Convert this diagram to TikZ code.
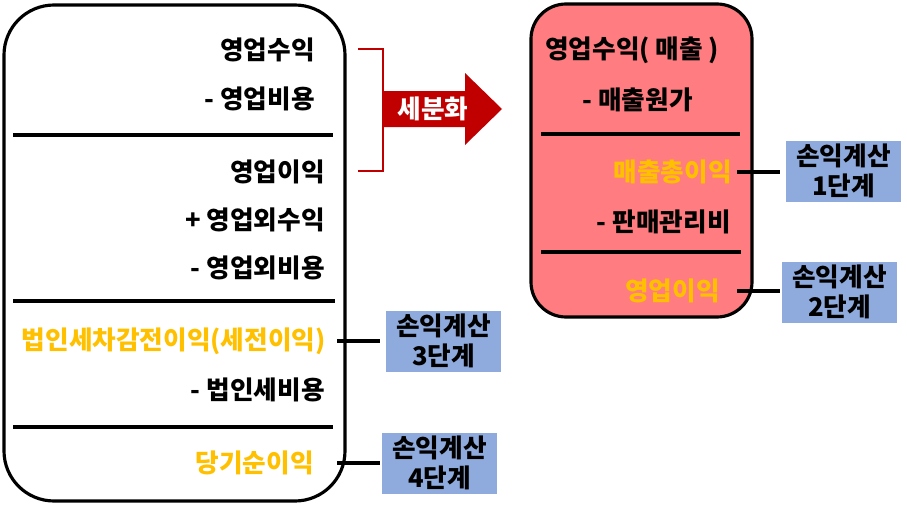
\documentclass[tikz,border=0pt]{standalone}
\usepackage{fontspec}
\setmainfont{Noto Sans CJK KR}[BoldFont={Noto Sans CJK KR Black}]
\usepackage{tikz}
\usetikzlibrary{positioning,calc}
\definecolor{accred}{HTML}{C00000}
\definecolor{salmon}{HTML}{FF7C80}
\definecolor{gold}{HTML}{FFC000}
\definecolor{stageblue}{HTML}{8FAADC}
\tikzset{
  item/.style={anchor=east, inner sep=0pt, font=\fontsize{14.6}{16}\selectfont\bfseries, text=#1},
  item/.default=black,
  stage/.style={rectangle, fill=stageblue, minimum width=23mm, minimum height=12.2mm, inner sep=0pt,
                align=center, font=\fontsize{14.6}{17}\selectfont\bfseries},
  sepline/.style={line width=1.8pt},
  conn/.style={line width=1.8pt},
  panel/.style={line width=1.8pt, rounded corners=#1},
}

\begin{document}
\begin{tikzpicture}[x=0.2mm, y=-0.2mm]
\useasboundingbox (0,0) rectangle (907,510);
% left statement
\draw[panel=10mm] (4,5) rectangle (345,501);
\node[item] (opRev) at (315,50) {영업수익};
\node[item] (opExp) at (315,99) {- 영업비용};
\draw[sepline] (13,135) -- (333,135);
\node[item] (opInc) at (325,172) {영업이익};
\node[item] (nonRev) at (325,220) {+ 영업외수익};
\node[item] (nonExp) at (325,268) {- 영업외비용};
\draw[sepline] (13,301) -- (335,301);
\node[item=gold] (pretax) at (326,341) {법인세차감전이익(세전이익)};
\node[item] (tax) at (325,390) {- 법인세비용};
\draw[sepline] (13,427) -- (333,427);
\node[item=gold] (net) at (314,463) {당기순이익};
% bracket and arrow
\draw[accred, line width=1.2pt] (358,49) -- (383,49) -- (383,171) -- (358,171);
\fill[accred] (383,91) -- (465,91) -- (465,73) -- (502,109) -- (465,145) -- (465,127) -- (383,127) -- cycle;
\node[item=white, anchor=center] (split) at (433,109) {세분화};
% right statement
\draw[panel=7mm, fill=salmon] (531,4) rectangle (752,317);
\node[item, anchor=west] (sales) at (545,50) {영업수익( 매출 )};
\node[item] (cogs) at (693,100) {- 매출원가};
\draw[sepline] (541,134) -- (740,134);
\node[item=gold] (gross) at (732,172) {매출총이익};
\node[item] (sga) at (731,222) {- 판매관리비};
\draw[sepline] (541,252) -- (741,252);
\node[item=gold] (opProfit) at (720,291) {영업이익};
% stages
\node[stage] (s1) at (843.5,171) {손익계산\\1단계};
\node[stage] (s2) at (839.5,292) {손익계산\\2단계};
\node[stage] (s3) at (443.5,341) {손익계산\\3단계};
\node[stage] (s4) at (439.5,463) {손익계산\\4단계};
\draw[conn, shorten <=1mm, shorten >=1.2mm] (gross.east) -- (gross.east -| s1.west);
\draw[conn, shorten <=3.4mm, shorten >=0.4mm] (opProfit.east) -- (opProfit.east -| s2.west);
\draw[conn, shorten <=2.2mm, shorten >=1.2mm] (pretax.east) -- (pretax.east -| s3.west);
\draw[conn, shorten <=4.6mm, shorten >=0.4mm] (net.east) -- (net.east -| s4.west);
\end{tikzpicture}
\end{document}
